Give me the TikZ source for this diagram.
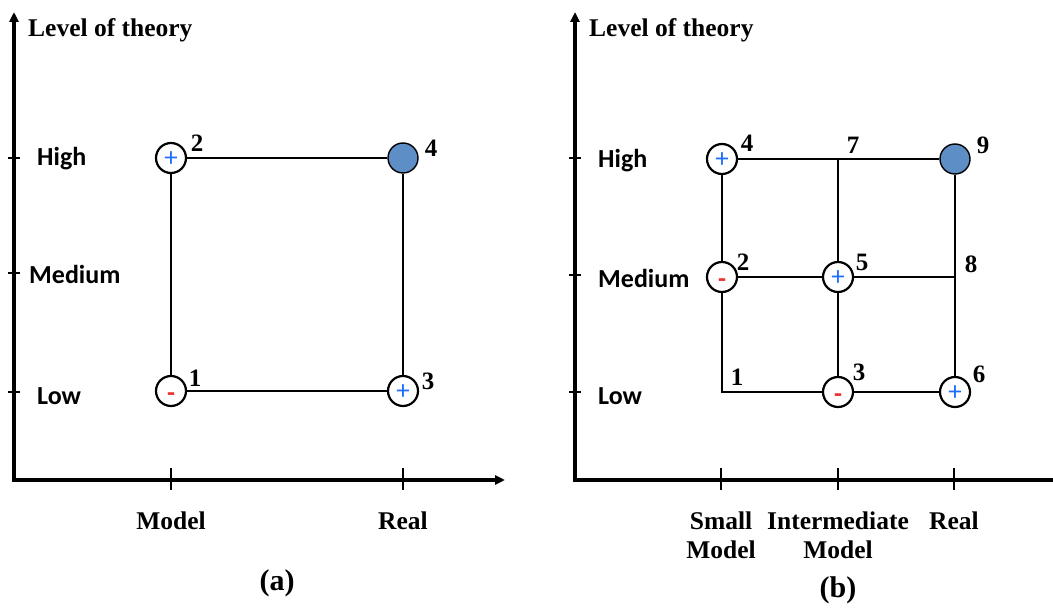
\documentclass[tikz,border=0pt]{standalone}
\usepackage{fontspec}
\setmainfont{Liberation Serif}
\newfontfamily\calfont{Carlito}
\usetikzlibrary{arrows.meta}
\definecolor{nodeblue}{HTML}{5E8EC6}
\definecolor{plusblue}{HTML}{1E6FFF}
\definecolor{minusred}{HTML}{E8332E}
\tikzset{
  axis/.style={line width=3.2pt,-{Triangle[length=10pt,width=9pt]}},
  tickmark/.style={line width=2.4pt},
  grid/.style={line width=2.2pt},
  pt/.style={circle,draw,line width=2.2pt,minimum size=30pt,inner sep=0pt,fill=white},
  goal/.style={pt,fill=nodeblue,line width=1.4pt},
  plus/.style={pt,font=\calfont\fontsize{27}{27}\selectfont,text=plusblue,text height=17pt,text depth=0pt},
  minus/.style={pt,font=\calfont\fontsize{26}{26}\selectfont\bfseries,text=minusred,text height=21pt,text depth=0pt},
  num/.style={font=\fontsize{25}{25}\selectfont\bfseries,inner sep=0pt},
  lvl/.style={font=\calfont\fontsize{26}{26}\selectfont\bfseries,inner sep=0pt,anchor=west},
  ttl/.style={font=\fontsize{25.5}{25.5}\selectfont\bfseries,inner sep=0pt,anchor=west},
  xlab/.style={font=\fontsize{25.5}{29}\selectfont\bfseries,inner sep=0pt,align=center,anchor=north},
  captxt/.style={font=\fontsize{30}{30}\selectfont\bfseries,inner sep=0pt},
}
\begin{document}
\begin{tikzpicture}[x=1pt,y=-1pt]
\useasboundingbox (0,0) rectangle (1053,612);
\clip (0,0) rectangle (1053,612);
% ---------------- panel (a)
\coordinate (ao) at (14,480);
\coordinate (ay) at (14,12);
\coordinate (ax) at (505,480);
\draw[axis] (ao) -- (ay);
\draw[axis] ([xshift=-2pt]ao) -- (ax);
\foreach \y in {158,273,392} \draw[tickmark] (8,\y) -- (20,\y);
\foreach \x in {171,403} \draw[tickmark] (\x,468) -- (\x,490);
\node[ttl] (at) at (28,30) {Level of theory};
\node[lvl] (ah) at (37,159) {High};
\node[lvl] (am) at (29,274) {Medium};
\node[lvl] (al) at (37,396) {Low};
\node[xlab] (amx) at (171,512) {Model};
\node[xlab] (arx) at (403,512) {Real};
\node[captxt] (acap) at (277,583) {(a)};

\node[plus]  (a2) at (171,158) {+};
\node[goal]  (a4) at (403,158) {};
\node[minus] (a1) at (171,391) {-};
\node[plus]  (a3) at (403,391) {+};
\draw[grid] (a2) -- (a4);
\draw[grid] (a2) -- (a1);
\draw[grid] (a4) -- (a3);
\draw[grid] (a1) -- (a3);
\node[num] (l2) at (197,143) {2};
\node[num] (l4) at (431,148) {4};
\node[num] (l1) at (195,378) {1};
\node[num] (l3) at (428,381) {3};

% ---------------- panel (b)
\coordinate (bo) at (575,480);
\coordinate (by) at (575,12);
\coordinate (bx) at (1064,480);
\draw[axis] (bo) -- (by);
\draw[axis] ([xshift=-2pt]bo) -- (bx);
\foreach \y in {158,275,392} \draw[tickmark] (569,\y) -- (581,\y);
\foreach \x in {721,838,954} \draw[tickmark] (\x,468) -- (\x,490);
\node[ttl] (bt) at (589,30) {Level of theory};
\node[lvl] (bh) at (598,161) {High};
\node[lvl] (bm) at (598,278) {Medium};
\node[lvl] (bl) at (598,396) {Low};
\node[xlab] (bsx) at (721,512) {Small\\Model};
\node[xlab] (bix) at (838,512) {Intermediate\\Model};
\node[xlab] (brx) at (954,512) {Real};
\node[captxt] (bcap) at (838,590) {(b)};

\node[plus]  (b4) at (722,159) {+};
\coordinate  (b7) at (838,159);
\node[goal]  (b9) at (955,159) {};
\node[minus] (b2) at (722,277) {-};
\node[plus]  (b5) at (838,277) {+};
\coordinate  (b8) at (955,277);
\coordinate  (b1) at (722,392);
\node[minus] (b3) at (838,392) {-};
\node[plus]  (b6) at (955,392) {+};
\draw[grid] (b4) -- (b9);
\draw[grid] (b4) -- (b2);
\draw[grid] (b2) -- (b1) -- (b3);
\draw[grid] (b3) -- (b6);
\draw[grid] (b2) -- (b5);
\draw[grid] (b5) -- (b8);
\draw[grid] (b7) -- (b5);
\draw[grid] (b5) -- (b3);
\draw[grid] (b9) -- (b6);
\node[num] (m4) at (747,143) {4};
\node[num] (m7) at (853,145) {7};
\node[num] (m9) at (983,145) {9};
\node[num] (m2) at (743,262) {2};
\node[num] (m5) at (862,262) {5};
\node[num] (m8) at (971,264) {8};
\node[num] (m1) at (737,377) {1};
\node[num] (m3) at (859,372) {3};
\node[num] (m6) at (979,374) {6};
\end{tikzpicture}
\end{document}
